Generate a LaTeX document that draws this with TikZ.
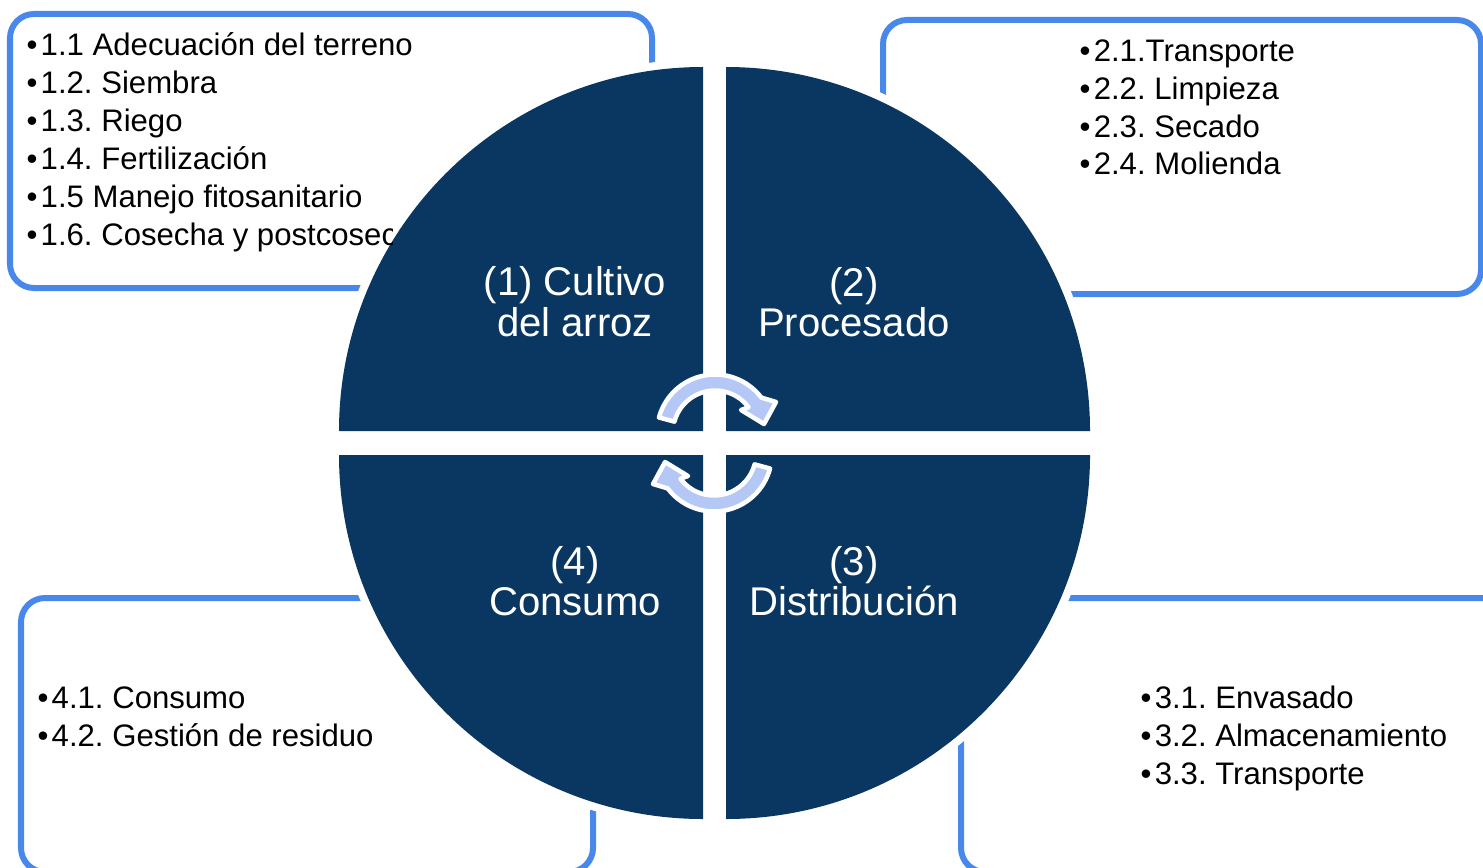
\documentclass[tikz,border=0pt]{standalone}
\usepackage{fontspec}
\setmainfont{Liberation Sans}
\frenchspacing
\definecolor{navy}{RGB}{10,55,97}
\definecolor{boxblue}{RGB}{72,136,235}
\definecolor{lav}{RGB}{180,199,245}
\newcommand{\blt}{•\kern0.9pt}
\tikzset{
 listbox/.style={draw=boxblue, line width=0.06cm, rounded corners=0.24cm},
 quad/.style={fill=navy},
 halo/.style={fill=white, draw=white, line width=0.16cm},
 item/.style={anchor=base west, inner sep=0pt, font=\fontsize{8.85}{10.8}\selectfont, text=black},
 stage/.style={anchor=base, inner sep=0pt, font=\fontsize{11.4}{11.7}\selectfont, text=white},
 cyc/.style={fill=lav, draw=white, line width=0.045cm, line join=round},
 pics/cycarrow/.style={code={
   \draw[cyc] (165:58) arc[start angle=165, end angle=37, radius=58]
     -- (61,30.5) -- (49,8.5) -- (26,22.5)
     -- (37:42) arc[start angle=37, end angle=165, radius=42] -- cycle;
 }}
}
\begin{document}
\begin{tikzpicture}[x=0.01cm,y=0.01cm]
\useasboundingbox (0,0) rectangle (1483,-867);
% list boxes
\draw[listbox] (10,-14) rectangle (652,-288);
\draw[listbox] (883,-20) rectangle (1481,-294);
\draw[listbox] (961,-598) rectangle (1510,-872);
\draw[listbox] (21,-598) rectangle (593,-872);
% white halos of the quadrants
\path[halo] (703,-431) -- (339,-431) arc[start angle=180, end angle=90, radius=364] -- cycle;
\path[halo] (726,-431) -- (726,-67) arc[start angle=90, end angle=0, radius=364] -- cycle;
\path[halo] (726,-455) -- (1090,-455) arc[start angle=0, end angle=-90, radius=364] -- cycle;
\path[halo] (703,-455) -- (703,-819) arc[start angle=-90, end angle=-180, radius=364] -- cycle;
% quadrants
\path[quad] (703,-431) -- (339,-431) arc[start angle=180, end angle=90, radius=364] -- cycle;
\path[quad] (726,-431) -- (726,-67) arc[start angle=90, end angle=0, radius=364] -- cycle;
\path[quad] (726,-455) -- (1090,-455) arc[start angle=0, end angle=-90, radius=364] -- cycle;
\path[quad] (703,-455) -- (703,-819) arc[start angle=-90, end angle=-180, radius=364] -- cycle;
% cycle arrows
\pic at (715,-432.5) {cycarrow};
\pic[rotate=180] at (714,-453.5) {cycarrow};
% stage labels
\node[stage] (s1a) at (575,-295) {(1) Cultivo};
\node[stage] (s1b) at (575,-336) {del arroz};
\node[stage] (s2a) at (854,-296) {(2)};
\node[stage] (s2b) at (854,-336) {Procesado};
\node[stage] (s3a) at (854,-575) {(3)};
\node[stage] (s3b) at (854,-615) {Distribución};
\node[stage] (s4a) at (575,-575) {(4)};
\node[stage] (s4b) at (575,-615) {Consumo};
% list 1
\node[item] (l11) at (26,-56) {\blt 1.1 Adecuación del terreno};
\node[item] (l12) at (26,-93.8) {\blt 1.2. Siembra};
\node[item] (l13) at (26,-131.6) {\blt 1.3. Riego};
\node[item] (l14) at (26,-169.4) {\blt 1.4. Fertilización};
\node[item] (l15) at (26,-207.2) {\blt 1.5 Manejo fitosanitario};
\begin{scope}
\clip (0,0) rectangle (392,-300);
\node[item] (l16) at (26,-245) {\blt 1.6. Cosecha y postcosecha};
\end{scope}
% list 2
\node[item] (l21) at (1079,-62) {\blt 2.1.Transporte};
\node[item] (l22) at (1079,-100) {\blt 2.2. Limpieza};
\node[item] (l23) at (1079,-138) {\blt 2.3. Secado};
\node[item] (l24) at (1079,-175) {\blt 2.4. Molienda};
% list 3
\node[item] (l31) at (1140,-708) {\blt 3.1. Envasado};
\node[item] (l32) at (1140,-746) {\blt 3.2. Almacenamiento};
\node[item] (l33) at (1140,-784) {\blt 3.3. Transporte};
% list 4
\node[item] (l41) at (37,-708) {\blt 4.1. Consumo};
\node[item] (l42) at (37,-746) {\blt 4.2. Gestión de residuo};
\end{tikzpicture}
\end{document}
